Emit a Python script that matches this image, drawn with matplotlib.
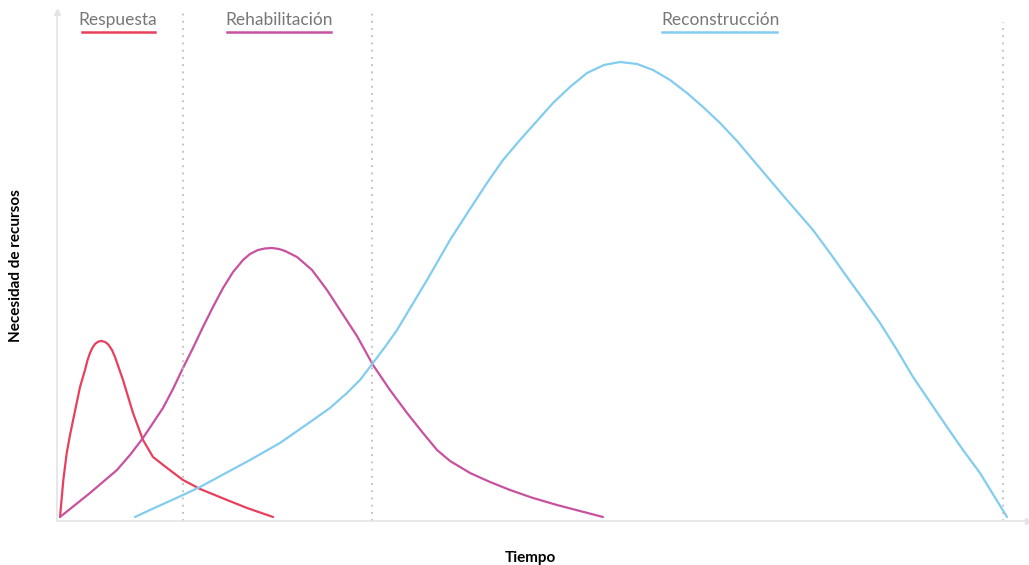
import matplotlib.pyplot as plt

plt.rcParams['font.family'] = ['Lato', 'DejaVu Sans']

# Phase curves (time vs. resource need)
resp_x = [0, 0.35, 0.71, 1.06, 1.41, 2.12, 2.65, 2.92, 3.18, 3.45, 3.71, 4.08, 4.42, 4.78,
          5.12, 5.51, 5.83, 6.2, 6.68, 7.74, 8.8, 9.86, 11.35, 13.04, 14.85, 17.71,
          19.83, 22.59]
resp_y = [0, 7.4, 12.8, 16.4, 19.6, 26.0, 29.4, 31.4, 32.8, 33.9, 34.6, 35.1, 35.2, 35.0,
          34.5, 33.4, 32.0, 30.0, 27.4, 20.8, 15.4, 12.0, 9.8, 7.4, 5.6, 3.4,
          1.8, 0]

rehab_x = [0, 3.18, 6.04, 7.42, 8.8, 9.86, 10.92, 11.98, 13.04, 14.1, 15.16, 16.22, 17.29,
           18.35, 19.41, 20.15, 21.0, 21.74, 22.48, 23.22, 23.86, 24.5, 25.13, 25.87,
           26.72, 27.36, 28.31, 29.69, 31.49, 33.19, 34.99, 36.8, 38.49, 39.98, 41.36,
           43.48, 45.6, 47.72, 50.16, 52.7, 55.14, 57.58]
rehab_y = [0, 4.8, 9.4, 12.4, 15.8, 18.8, 21.8, 25.6, 29.8, 33.8, 38.0, 42.0, 45.8,
           49.0, 51.4, 52.6, 53.4, 53.7, 53.8, 53.6, 53.2, 52.6, 52.0, 50.8,
           49.4, 47.8, 45.4, 41.4, 36.2, 30.4, 25.4, 20.8, 16.8, 13.4, 11.2,
           8.8, 7.0, 5.4, 3.8, 2.4, 1.2, 0]

recon_x = [7.95, 9.54, 13.04, 14.85, 20.15, 23.33, 26.83, 28.63, 30.43, 31.81, 33.19, 34.46,
           35.74, 37.33, 38.92, 41.36, 43.27, 45.28, 46.98, 48.78, 50.58, 52.28, 54.08,
           55.89, 57.69, 59.39, 61.19, 62.88, 64.69, 66.49, 68.19, 69.99, 71.79, 73.49,
           75.29, 77.09, 78.47, 79.85, 81.65, 83.46, 85.15, 86.96, 88.76, 90.46, 92.26,
           94.06, 95.76, 97.56, 100.42]
recon_y = [0, 1.4, 4.4, 6.0, 11.4, 14.8, 19.4, 21.8, 24.8, 27.4, 30.8, 34.0,
           37.4, 42.4, 47.4, 55.4, 61.0, 66.8, 71.4, 75.4, 79.2, 82.8, 86.0,
           88.8, 90.4, 91.0, 90.6, 89.4, 87.4, 84.8, 82.0, 78.8, 75.2, 71.4,
           67.4, 63.4, 60.4, 57.4, 52.8, 48.0, 43.6, 38.8, 33.4, 28.0, 23.0,
           18.0, 13.4, 8.8, 0]

phases = ['Respuesta', 'Rehabilitación', 'Reconstrucción']
colors = ['#e8405c', '#c8529f', '#82cdef']
phase_bounds = [13.04, 33.09, 100]

fig = plt.figure(figsize=(10.29, 5.65), dpi=100)
ax = fig.add_axes([0.0554, 0.0779, 0.9436, 0.9009])
ax.set_xlim(-0.32, 102.65)
ax.set_ylim(-0.8, 101)

ax.plot(resp_x, resp_y, color=colors[0], lw=1.6, solid_capstyle='round', solid_joinstyle='round')
ax.plot(rehab_x, rehab_y, color=colors[1], lw=1.6, solid_capstyle='round', solid_joinstyle='round')
ax.plot(recon_x, recon_y, color=colors[2], lw=1.6, solid_capstyle='round', solid_joinstyle='round')

# phase boundaries
tops = [101, 101, 99]
for xb, top in zip(phase_bounds, tops):
    ax.plot([xb, xb], [-0.8, top], color='#bdbdbd', lw=1.3, ls=(0, (1, 3)), clip_on=False)

# phase labels with coloured underline
label_x = [6.1, 23.2, 70.0]
under = [(2.33, 10.07), (17.71, 28.74), (63.84, 76.03)]
for name, c, lx, (u0, u1) in zip(phases, colors, label_x, under):
    ax.text(lx, 98.3, name, ha='center', va='baseline', fontsize=12.5, color='#777777')
    ax.plot([u0, u1], [97.0, 97.0], color=c, lw=1.8, clip_on=False)

for s in ['top', 'right']:
    ax.spines[s].set_visible(False)
for s in ['left', 'bottom']:
    ax.spines[s].set_color('#e4e4e4')
    ax.spines[s].set_linewidth(1.2)
ax.plot(0, 1, '^', color='#e4e4e4', ms=5, transform=ax.transAxes, clip_on=False)
ax.plot(1, 0, '>', color='#e4e4e4', ms=5, transform=ax.transAxes, clip_on=False)
ax.set_xticks([])
ax.set_yticks([])

fig.text(0.515, 0.0, 'Tiempo', ha='center', va='bottom', fontsize=11, fontweight='bold')
fig.text(0.016, 0.53, 'Necesidad de recursos', rotation=90, ha='center', va='center',
         fontsize=11, fontweight='bold')

fig.savefig('out.png', dpi=100)
plt.close(fig)
